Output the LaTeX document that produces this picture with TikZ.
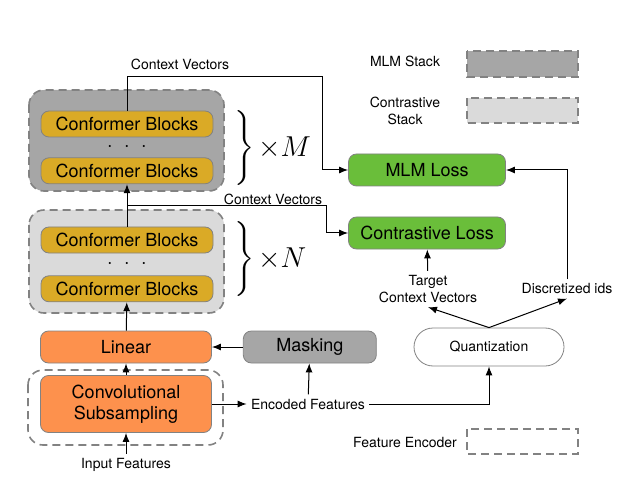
\documentclass[tikz,border=0pt]{standalone}
\usepackage{graphicx}
\usepackage{fontspec}
\setmainfont{TeX Gyre Heros}
\usetikzlibrary{positioning,arrows.meta,calc}

\definecolor{confgold}{RGB}{218,170,38}
\definecolor{lingorange}{RGB}{253,145,77}
\definecolor{lossgreen}{RGB}{106,190,58}
\definecolor{stackdark}{RGB}{166,166,166}
\definecolor{stacklight}{RGB}{218,218,218}
\definecolor{edgegray}{RGB}{130,130,130}

\tikzset{
  block/.style={draw=edgegray, rounded corners=4pt, inner sep=0pt, font=\fontsize{9}{10.5}\selectfont},
  confblock/.style={block, fill=confgold, minimum width=86pt, minimum height=13pt},
  orangeblock/.style={block, fill=lingorange, minimum width=85.5pt, minimum height=16pt},
  lossblock/.style={block, fill=lossgreen, minimum width=78.5pt, minimum height=16pt},
  stackbox/.style={draw=edgegray, dashed, dash pattern=on 4pt off 2.5pt, line width=0.8pt, rounded corners=7.5pt},
  legendbox/.style={draw=edgegray, dashed, dash pattern=on 4pt off 2.5pt, line width=0.8pt},
  lbl/.style={font=\fontsize{7}{8.5}\selectfont, align=center, inner sep=2pt},
  repeat/.style={anchor=west, inner sep=0pt},
  times/.style={inner sep=0pt, font=\fontsize{15}{17}\selectfont},
  arr/.style={-{Latex[length=4.5pt,width=3.5pt]}, line width=0.5pt}
}

\newcommand{\bigbrace}{\raisebox{-3.1pt}[18pt][18pt]{\scalebox{1.25}{$\Bigg\}$}}}

\begin{document}
\begin{tikzpicture}[x=0.5pt,y=-0.5pt]
  \useasboundingbox (0,0) rectangle (635,491);

  % stacks
  \draw[stackbox, fill=stackdark] (29,90) rectangle (224,191);
  \draw[stackbox, fill=stacklight] (29,210) rectangle (224,313);
  \draw[stackbox] (28,370) rectangle (223,445);

  % conformer blocks
  \node[confblock] (cb1) at (127,124) {Conformer Blocks};
  \node[confblock, below=10pt of cb1] (cb2) {Conformer Blocks};
  \node (dots1) at ($(cb1)!0.5!(cb2)$) {$\cdot\hspace{3.5pt}\cdot\hspace{3.5pt}\cdot$};
  \node[confblock] (cb3) at (127,240) {Conformer Blocks};
  \node[confblock, below=11pt of cb3] (cb4) {Conformer Blocks};
  \node (dots2) at ($(cb3)!0.5!(cb4)$) {$\cdot\hspace{3.5pt}\cdot\hspace{3.5pt}\cdot$};

  \node[repeat] (braceM) at (234,148) {\bigbrace};
  \node[times, right=1.5pt of braceM] (timesM) {$\times M$};
  \node[repeat] (braceN) at (234,259) {\bigbrace};
  \node[times, right=1.5pt of braceN] (timesN) {$\times N$};

  % front end
  \node[orangeblock] (linear) at (126,347) {Linear};
  \node[block, fill=stackdark, minimum width=66.5pt, minimum height=16pt, right=15.5pt of linear] (masking) {Masking};
  \node[orangeblock, minimum height=28.5pt, align=center] (conv) at (126,404) {Convolutional\\Subsampling};
  \node[lbl] (input) at (126,465) {Input Features};
  \node[lbl] (enc) at (308,404) {Encoded Features};

  % losses
  \node[lossblock] (mlmloss) at (427,170) {MLM Loss};
  \node[lossblock] (contrloss) at (427,233) {Contrastive Loss};
  \node[draw=edgegray, rounded corners=9.5pt, minimum width=75pt, minimum height=19pt, inner sep=0pt, font=\fontsize{7}{8.5}\selectfont] (quant) at (489,347) {Quantization};
  \node[lbl] (target) at (428,289) {Target\\Context Vectors};
  \node[lbl] (disc) at (567,289) {Discretized ids};

  % legend
  \node[lbl] (leg1) at (405,61) {MLM Stack};
  \draw[legendbox, fill=stackdark] (467,51) rectangle (578,77);
  \node[lbl] (leg2) at (405,111) {Contrastive\\Stack};
  \draw[legendbox, fill=stacklight] (467,98) rectangle (578,123);
  \node[lbl] (leg3) at (405,442) {Feature Encoder};
  \draw[legendbox] (467,429) rectangle (578,454);

  % context vectors
  \node[lbl] (ctx1) at (180,64) {Context Vectors};
  \node[lbl] (ctx2) at (273,199) {Context Vectors};
  \coordinate (ctxtop) at (322,77);
  \coordinate (split) at (127,206);
  \coordinate (ctxmid) at (326,206);

  % connectors
  \draw[arr] (input) -- (conv);
  \draw[arr] (conv) -- (linear);
  \draw[arr] (linear) -- (cb4);
  \draw[arr] (masking) -- (linear);
  \draw[arr] (enc) -- (masking);
  \draw[arr] (conv.east) -- (enc.west);
  \draw[arr] (enc.east) -| (quant.south);
  \draw[arr] (quant.north) -- (target.south);
  \draw[arr] (quant.north) -- (disc.south);
  \draw[arr] (target) -- (contrloss);
  \draw[arr] (disc.north) |- (mlmloss.east);
  \draw[arr] (cb3) -- (cb2);
  \draw[arr] (cb1.north) |- (ctxtop) |- (mlmloss.west);
  \draw[arr] (split) -- (ctxmid) |- (contrloss.west);
\end{tikzpicture}
\end{document}
